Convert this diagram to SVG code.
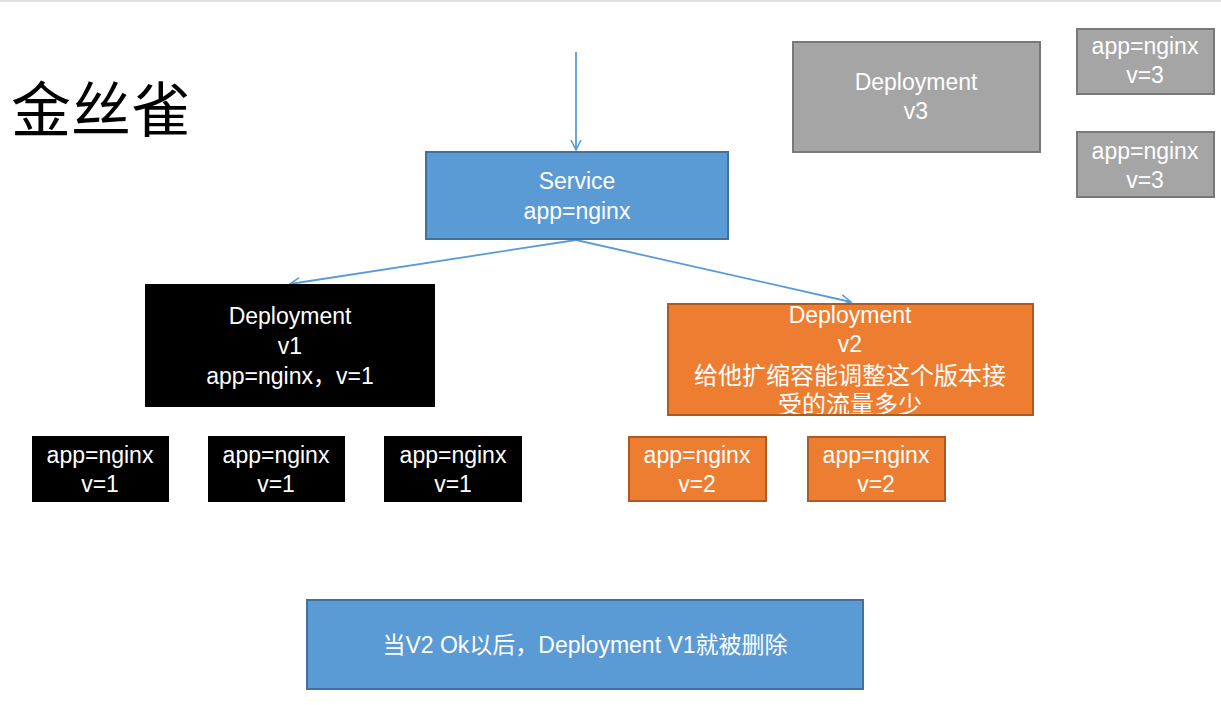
<svg xmlns="http://www.w3.org/2000/svg" width="1221" height="705" viewBox="0 0 1221 705">
<defs>
<marker id="arr" viewBox="0 0 12 12" refX="11" refY="6" markerWidth="12" markerHeight="12" markerUnits="userSpaceOnUse" orient="auto">
<path d="M1,1 L11,6 L1,11" fill="none" stroke="#5b9bd5" stroke-width="1.6"/>
</marker>
<style>
text{font-family:"Liberation Sans","Noto Sans CJK SC",sans-serif;fill:#fff;text-anchor:middle;font-size:23px}
.blue{fill:#5b9bd5;stroke:#41719c;stroke-width:2}
.black{fill:#000}
.orange{fill:#ed7d31;stroke:#ae5a21;stroke-width:2}
.gray{fill:#a5a5a5;stroke:#787878;stroke-width:2}
.cjk{font-size:24px}
.conn{stroke:#5b9bd5;stroke-width:1.8;fill:none}
</style>
</defs>
<rect x="0" y="0" width="1221" height="705" fill="#fff"/>
<rect x="0" y="0" width="1221" height="2" fill="#e0e0e0"/>
<text x="11" y="132" style="font-size:60px;fill:#000;text-anchor:start">金丝雀</text>

<g id="connectors">
<line class="conn" x1="576" y1="52" x2="576" y2="150" marker-end="url(#arr)"/>
<line class="conn" x1="576" y1="240" x2="290" y2="284" marker-end="url(#arr)"/>
<line class="conn" x1="576" y1="240" x2="851" y2="302" marker-end="url(#arr)"/>
</g>

<g id="service">
<rect class="blue" x="426" y="152" width="302" height="87"/>
<text x="577" y="189">Service</text>
<text x="577" y="219">app=nginx</text>
</g>

<g id="deploy-v1">
<rect class="black" x="145" y="284" width="290" height="123"/>
<text x="290" y="324">Deployment</text>
<text x="290" y="354">v1</text>
<text x="290" y="384">app=nginx，v=1</text>
</g>

<g id="deploy-v2">
<rect class="orange" x="668" y="304" width="365" height="111"/>
<text x="850" y="323">Deployment</text>
<text x="850" y="352">v2</text>
<text class="cjk" x="850" y="384">给他扩缩容能调整这个版本接</text>
<text class="cjk" x="850" y="413">受的流量多少</text>
<rect x="668" y="304" width="365" height="111" fill="none" stroke="#ae5a21" stroke-width="2"/>
</g>

<g id="pod-v1-a">
<rect class="black" x="32" y="436" width="137" height="66"/>
<text x="100" y="463">app=nginx</text>
<text x="100" y="492">v=1</text>
</g>
<g id="pod-v1-b">
<rect class="black" x="208" y="436" width="137" height="66"/>
<text x="276" y="463">app=nginx</text>
<text x="276" y="492">v=1</text>
</g>
<g id="pod-v1-c">
<rect class="black" x="384" y="436" width="138" height="66"/>
<text x="453" y="463">app=nginx</text>
<text x="453" y="492">v=1</text>
</g>

<g id="pod-v2-a">
<rect class="orange" x="629" y="437" width="137" height="64"/>
<text x="697" y="463">app=nginx</text>
<text x="697" y="492">v=2</text>
</g>
<g id="pod-v2-b">
<rect class="orange" x="808" y="437" width="137" height="64"/>
<text x="876" y="463">app=nginx</text>
<text x="876" y="492">v=2</text>
</g>

<g id="deploy-v3">
<rect class="gray" x="793" y="42" width="247" height="110"/>
<text x="916" y="90">Deployment</text>
<text x="916" y="119">v3</text>
</g>

<g id="pod-v3-a">
<rect class="gray" x="1077" y="29" width="137" height="65"/>
<text x="1145" y="54">app=nginx</text>
<text x="1145" y="83">v=3</text>
</g>
<g id="pod-v3-b">
<rect class="gray" x="1077" y="132" width="137" height="65"/>
<text x="1145" y="159">app=nginx</text>
<text x="1145" y="188">v=3</text>
</g>

<g id="note">
<rect class="blue" x="307" y="600" width="556" height="89"/>
<text x="585" y="653">当V2 Ok以后，Deployment V1就被删除</text>
</g>
</svg>
